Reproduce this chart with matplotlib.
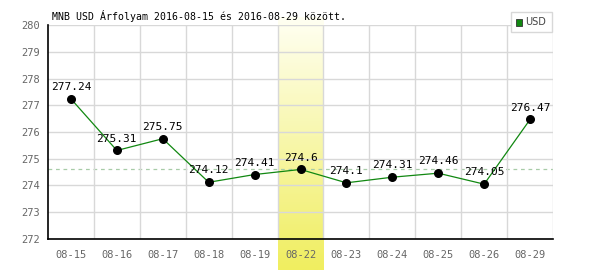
import matplotlib
matplotlib.use("Agg")
import matplotlib.pyplot as plt
from matplotlib.colors import LinearSegmentedColormap
import numpy as np

dates = ["08-15", "08-16", "08-17", "08-18", "08-19", "08-22",
         "08-23", "08-24", "08-25", "08-26", "08-29"]
rates = [277.24, 275.31, 275.75, 274.12, 274.41, 274.6,
         274.1, 274.31, 274.46, 274.05, 276.47]
labels = ["277.24", "275.31", "275.75", "274.12", "274.41", "274.6",
          "274.1", "274.31", "274.46", "274.05", "276.47"]
highlight = 5  # 08-22
title = "MNB USD Árfolyam 2016-08-15 és 2016-08-29 között."

plt.rcParams['font.family'] = ['DejaVu Sans Mono']

fig = plt.figure(figsize=(6, 2.7), dpi=100)
ax = fig.add_axes([0.08, 0.115, 0.8417, 0.792])

x = np.arange(len(dates))
ax.set_xlim(-0.5, len(dates) - 0.5)
ax.set_ylim(272, 280)

# highlighted day column with gradient, spills past the axes
grad = np.linspace(0, 1, 100).reshape(-1, 1)
cmap = LinearSegmentedColormap.from_list("hl", ["#f0ee60", "#fffff2"])
ax.imshow(grad, extent=(highlight - 0.5, highlight + 0.5, 270.84, 280.27),
          origin="lower", cmap=cmap, aspect="auto", zorder=0, clip_on=False)

ax.set_yticks(range(272, 281))
ax.set_xticks(x)
ax.set_xticklabels(dates)
ax.set_xticks(x[:-1] + 0.5, minor=True)
ax.grid(True, which="major", axis="y", color="#d8d8d8", lw=1)
ax.grid(True, which="minor", axis="x", color="#d8d8d8", lw=1)
ax.axvline(len(dates) - 0.5, color="#d8d8d8", lw=1)
ax.tick_params(axis="both", which="both", length=0, labelsize=7.5,
               labelcolor="#666666", pad=6)
ax.tick_params(axis="x", pad=8)
for s in ["top", "right"]:
    ax.spines[s].set_visible(False)
for s in ["left", "bottom"]:
    ax.spines[s].set_color("black")
    ax.spines[s].set_linewidth(1.2)

ax.axhline(rates[highlight], color="#a8cca8", lw=0.9, ls=(0, (3, 3)), zorder=1)

ax.plot(x, rates, color="#118811", lw=0.9, zorder=3)
ax.scatter(x, rates, s=30, color="black", zorder=4)
for xi, yi, lab in zip(x, rates, labels):
    ax.annotate(lab, (xi, yi), xytext=(0, 5), textcoords="offset points",
                ha="center", va="bottom", fontsize=8, color="black", zorder=5)

fig.text(52 / 600, 1 - 16 / 270, title, fontsize=7.1, color="black",
         va="center", ha="left")

# legend box
fig.patches.append(plt.Rectangle((511 / 600, 1 - 32 / 270), 41 / 600, 20 / 270,
                                 transform=fig.transFigure, facecolor="white",
                                 edgecolor="#d8d8d8", lw=1, zorder=5))
fig.patches.append(plt.Rectangle((516 / 600, 1 - 26 / 270), 6 / 600, 7 / 270,
                                 transform=fig.transFigure, facecolor="#118811",
                                 edgecolor="#333333", lw=0.6, zorder=6))
fig.text(525 / 600, 1 - 22 / 270, "USD", fontsize=7, color="#444444",
         va="center", ha="left", family="DejaVu Sans", zorder=7)

fig.savefig("out.png", dpi=100)
